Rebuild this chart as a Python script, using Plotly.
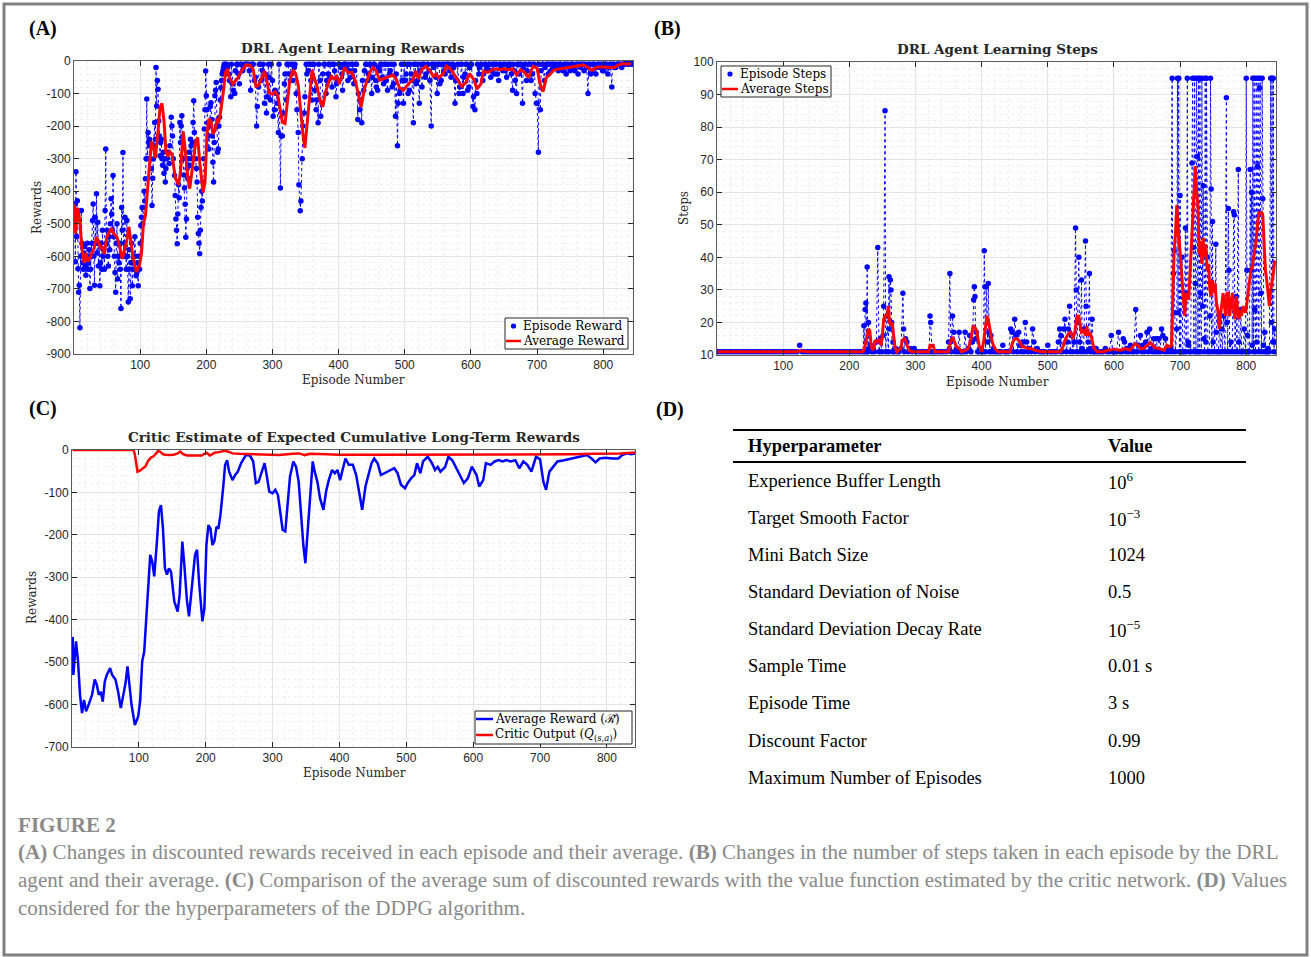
import plotly.graph_objects as go

# ---------------- DATA ----------------
# (A) episode reward, part 1 (episodes 1-229)
reward_ep_1 = [1,2,3,4,5,6,7,8,9,10,11,12,13,14,15,16,17,18,19,20,21,22,23,24,25,26,27,28,29,30,
               31,32,33,34,35,36,37,38,39,40,41,42,43,44,45,46,47,48,49,50,51,52,53,54,55,56,57,58,59,60,
               61,62,63,64,65,66,67,68,69,70,71,72,73,74,75,76,77,78,79,80,81,82,83,84,85,86,87,88,89,90,
               91,92,93,94,95,96,97,98,99,100,101,102,103,104,105,106,107,108,109,110,111,112,113,114,115,116,117,118,119,120,
               121,122,123,124,125,126,127,128,129,130,131,132,133,134,135,136,137,138,139,140,142,144,145,147,148,149,150,152,153,154,
               155,156,157,158,159,160,161,162,163,164,165,166,167,168,169,170,171,172,173,174,175,176,177,178,179,180,181,182,183,184,
               185,186,187,188,189,190,191,192,193,194,195,196,197,198,199,200,201,202,203,204,205,206,207,208,209,210,211,212,213,214,
               215,216,217,218,219,220,221,222,223,224,225,226,227,228,229]
reward_val_1 = [-439,-617,-340,-540,-429,-638,-710,-689,-819,-600,-459,-560,-620,-640,-590,-570,-630,-658,-600,-560,
                -640,-620,-580,-699,-640,-600,-560,-490,-439,-600,-689,-480,-560,-408,-590,-495,-630,-560,-690,-620,
                -560,-640,-520,-600,-580,-640,-459,-270,-560,-520,-600,-630,-540,-580,-500,-423,-470,-520,-352,-540,
                -600,-650,-710,-560,-500,-670,-600,-620,-560,-640,-760,-450,-520,-281,-600,-560,-480,-600,-640,-490,
                -600,-740,-640,-580,-730,-620,-560,-690,-640,-620,-600,-540,-600,-660,-650,-620,-690,-600,-640,-560,
                -505,-480,-450,-500,-450,-400,-430,-362,-300,-117,-300,-220,-250,-240,-260,-255,-330,-444,-360,-301,
                -260,-189,-240,-20,-138,-60,-87,-184,-230,-291,-250,-240,-300,-320,-280,-345,-300,-372,-330,-300,
                -280,-315,-260,-173,-200,-230,-300,-352,-413,-485,-520,-561,-470,-380,-420,-189,-250,-200,-168,-235,
                -300,-350,-390,-440,-541,-485,-330,-360,-300,-280,-320,-240,-260,-300,-250,-189,-122,-220,-250,-300,
                -330,-372,-480,-530,-560,-592,-520,-450,-400,-430,-372,-300,-209,-150,-31,-107,-150,-190,-230,-270,
                -200,-140,-128,-180,-230,-311,-372,-250,-107,-90,-66,-200,-280,-270,-200,-173,-120,-82,-60,-40,
                -31,-20,-10,-10,-40]
# (A) episode reward, part 2 (episodes 231, 234, ... 843)
reward_ep_2 = [231,234,237,240,243,246,249,252,255,258,261,264,267,270,273,276,279,282,285,288,291,294,297,300,303,306,309,312,315,318,
               321,324,327,330,333,336,339,342,345,348,351,354,357,360,363,366,369,372,375,378,381,384,387,390,393,396,399,402,405,408,
               411,414,417,420,423,426,429,432,435,438,441,444,447,450,453,456,459,462,465,468,471,474,477,480,483,486,489,492,495,498,
               501,504,507,510,513,516,519,522,525,528,531,534,537,540,543,546,549,552,555,558,561,564,567,570,573,576,579,582,585,588,
               591,594,597,600,603,606,609,612,615,618,621,624,627,630,633,636,639,642,645,648,651,654,657,660,663,666,669,672,675,678,
               681,684,687,690,693,696,699,702,705,708,711,714,717,720,723,726,729,732,735,738,741,744,747,750,753,756,759,762,765,768,
               771,774,777,780,783,786,789,792,795,798,801,804,807,810,813,816,819,822,825,828,831,834,837,840,843]
reward_val_2 = [-10,-40,-110,-70,-100,-10,-40,-10,-30,-10,-10,-10,-90,-10,-60,-200,-80,-10,-30,-130,
                -160,-10,-120,-60,-150,-100,-220,-390,-230,-70,-120,-10,-60,-10,-20,-100,-220,-460,-300,-160,
                -10,-30,-10,-120,-10,-150,-190,-60,-130,-10,-100,-40,-10,-80,-10,-110,-60,-10,-40,-10,
                -10,-60,-30,-10,-70,-10,-180,-150,-190,-90,-10,-60,-10,-100,-10,-60,-90,-30,-10,-70,
                -10,-90,-40,-10,-70,-170,-260,-100,-10,-130,-60,-10,-90,-40,-190,-10,-60,-130,-10,-10,
                -50,-10,-30,-200,-10,-10,-100,-10,-60,-10,-40,-10,-10,-50,-10,-130,-60,-100,-10,-100,
                -40,-10,-80,-10,-140,-150,-100,-40,-10,-60,-10,-30,-10,-50,-10,-40,-10,-60,-10,-30,
                -10,-50,-20,-10,-90,-30,-100,-10,-10,-130,-10,-60,-10,-10,-40,-10,-130,-280,-150,-10,
                -60,-10,-40,-10,-10,-20,-10,-30,-10,-20,-10,-40,-10,-30,-10,-20,-10,-40,-10,-10,
                -30,-10,-100,-10,-30,-10,-40,-10,-20,-10,-30,-10,-40,-10,-80,-10,-20,-10,-10,-20,
                -10,-5,-10,-5,-10]
# (A) episode reward, part 3 (episodes 232, 235, ... 844)
reward_ep_3 = [232,235,238,241,244,247,250,253,256,259,262,265,268,271,274,277,280,283,286,289,292,295,298,301,304,307,310,313,316,319,
               322,325,328,331,334,337,340,343,346,349,352,355,358,361,364,367,370,373,376,379,382,385,388,391,394,397,400,403,406,409,
               412,415,418,421,424,427,430,433,436,439,442,445,448,451,454,457,460,463,466,469,472,475,478,481,484,487,490,493,496,499,
               502,505,508,511,514,517,520,523,526,529,532,535,538,541,544,547,550,553,556,559,562,565,568,571,574,577,580,583,586,589,
               592,595,598,601,604,607,610,613,616,619,622,625,628,631,634,637,640,643,646,649,652,655,658,661,664,667,670,673,676,679,
               682,685,688,691,694,697,700,703,706,709,712,715,718,721,724,727,730,733,736,739,742,745,748,751,754,757,760,763,766,769,
               772,775,778,781,784,787,790,793,796,799,802,805,808,811,814,817,820,823,826,829,832,835,838,841,844]
reward_val_3 = [-20,-60,-10,-90,-30,-10,-70,-10,-20,-10,-10,-30,-10,-10,-50,-140,-10,-60,-10,-40,
                -110,-50,-10,-170,-90,-130,-10,-230,-160,-40,-10,-40,-10,-60,-10,-150,-380,-430,-200,-110,
                -40,-10,-60,-10,-90,-120,-10,-170,-40,-10,-60,-10,-50,-10,-30,-70,-10,-20,-90,-10,
                -20,-10,-50,-10,-30,-10,-100,-120,-60,-30,-10,-40,-10,-50,-10,-80,-20,-10,-50,-10,
                -60,-10,-30,-80,-10,-40,-130,-90,-60,-10,-40,-100,-10,-60,-10,-70,-10,-30,-80,-10,
                -40,-10,-60,-10,-20,-50,-10,-70,-10,-30,-10,-10,-30,-10,-20,-60,-10,-80,-10,-50,
                -10,-90,-20,-10,-110,-60,-10,-20,-10,-40,-10,-20,-10,-30,-10,-10,-40,-10,-20,-10,
                -30,-10,-10,-40,-10,-60,-10,-40,-10,-20,-10,-30,-10,-60,-10,-100,-130,-10,-30,-10,
                -20,-10,-10,-30,-10,-10,-20,-10,-10,-30,-10,-10,-20,-10,-10,-30,-10,-10,-20,-10,
                -10,-20,-10,-40,-10,-10,-20,-10,-10,-30,-10,-10,-20,-10,-10,-20,-10,-10,-10,-10,
                -10,-5,-10,-5,-5]

# (A) red / (C) blue : average reward
avg_ep = [1,2,6,9,12,15,18,21,25,30,34,37,40,43,46,49,52,57,60,65,
          69,73,77,80,83,86,89,94,99,102,105,108,111,114,117,120,123,127,130,133,
          136,139,142,145,148,153,158,161,165,168,172,175,179,184,187,190,195,198,201,204,
          207,210,213,216,219,222,226,229,232,235,240,244,248,253,260,266,271,275,279,284,
          288,292,295,300,304,308,312,315,319,323,326,331,335,339,342,346,349,352,356,360,
          363,367,371,376,380,384,389,393,397,401,404,409,414,420,425,430,434,439,444,448,
          452,457,462,467,472,477,482,487,492,498,502,507,512,516,521,525,532,538,543,547,
          551,558,563,569,574,580,586,592,598,605,609,615,619,626,632,638,644,650,656,663,
          669,675,681,687,694,700,705,709,714,720,726,736,748,761,770,777,783,789,798,808,
          817,823,830,836,842]
avg_val = [-441,-530,-451,-498,-577,-620,-589,-616,-600,-577,-541,-553,-577,-570,-593,-546,-530,-514,-530,-541,
           -570,-608,-575,-550,-510,-560,-600,-648,-628,-590,-498,-475,-404,-341,-247,-263,-298,-216,-145,-130,
           -184,-279,-294,-279,-286,-357,-381,-341,-216,-271,-357,-392,-326,-247,-235,-310,-404,-373,-224,-177,
           -185,-224,-215,-181,-185,-153,-90,-35,-24,-51,-71,-59,-51,-31,-12,-13,-27,-78,-75,-51,
           -31,-67,-98,-102,-94,-106,-153,-188,-192,-106,-63,-27,-39,-75,-145,-224,-267,-200,-98,-27,
           -51,-75,-114,-141,-98,-71,-47,-55,-47,-71,-51,-20,-35,-35,-59,-106,-141,-85,-51,-31,
           -20,-31,-59,-55,-51,-47,-43,-55,-82,-90,-78,-67,-59,-31,-55,-27,-16,-30,-47,-40,
           -51,-40,-16,-25,-39,-59,-78,-67,-39,-59,-86,-71,-31,-35,-27,-24,-27,-24,-27,-24,
           -43,-27,-35,-51,-16,-22,-75,-94,-51,-40,-27,-24,-20,-16,-12,-20,-29,-20,-18,-20,
           -20,-12,-8,-10,-8]

# (B) episode steps
steps_ep = [1,5,9,13,17,21,25,29,33,37,41,45,49,53,57,61,65,69,73,77,81,85,89,93,97,101,105,109,113,117,
            121,125,129,133,137,141,145,149,153,157,161,165,169,173,177,181,185,189,193,197,201,205,209,213,217,221,
            222,223,224,225,226,227,228,229,230,232,234,236,238,241,243,245,247,249,251,252,254,255,257,259,
            260,261,262,263,264,265,266,268,270,272,275,278,281,282,283,285,287,289,292,295,298,301,305,309,
            313,317,321,322,323,325,328,331,335,339,343,347,350,352,353,354,356,358,360,362,364,366,368,370,
            373,375,377,380,382,384,386,388,389,390,391,392,394,396,398,400,403,404,405,406,407,409,410,411,
            412,414,416,418,420,423,426,429,432,435,438,441,444,446,448,450,452,454,456,458,460,462,464,466,
            468,470,472,475,477,479,481,484,487,490,493,496,500,503,506,510,513,516,518,519,520,522,524,526,
            528,530,531,533,534,536,538,540,542,543,544,545,547,548,549,551,552,554,555,557,558,559,561,563,
            564,565,567,569,571,573,575,578,581,584,587,590,593,596,598,601,604,607,609,612,614,616,618,620,
            622,625,627,630,633,635,637,640,642,644,646,648,650,652,654,656,658,660,662,664,666,668,670,672,
            674,676,678,680,682,684,686,688,689,690,691,692,693,695,696,697,698,699,700,701,703,704,706,708,
            709,710,711,712,713,714,716,718,719,720,721,722,723,724,725,726,727,728,729,730,731,732,733,734,
            735,736,737,738,739,740,741,742,744,745,746,747,748,749,750,752,754,755,756,758,760,761,763,764,
            766,768,770,771,772,773,774,775,777,779,781,782,783,785,786,788,789,790,792,793,795,797,799,800,
            801,802,803,805,806,807,808,809,810,811,812,813,814,815,816,817,818,819,820,821,822,823,824,825,
            826,827,828,830,832,833,835,837,838,839,840,841,842,843,844]
steps_val = [11,11,11,11,11,11,11,11,11,11,11,11,11,11,11,11,11,11,11,11,11,11,11,11,11,11,11,11,11,11,
             11,13,11,11,11,11,11,11,11,11,11,11,11,11,11,11,11,11,11,11,11,11,11,11,11,11,
             19,11,24,26,11,37,11,20,12,13,11,12,11,14,43,11,15,11,16,25,85,11,22,11,
             34,18,33,30,20,11,14,11,12,11,11,12,29,18,11,15,14,11,12,11,12,11,11,11,
             11,11,11,22,20,11,11,11,11,11,11,11,14,35,14,11,22,17,11,12,11,17,11,11,
             11,17,11,12,16,11,14,27,31,28,15,17,11,11,12,11,11,42,31,11,31,14,32,17,
             11,16,11,12,11,11,11,11,13,11,11,11,18,17,11,21,16,11,17,13,11,14,11,20,
             14,11,12,11,18,14,11,12,11,11,11,11,13,11,11,11,11,14,18,11,16,11,18,21,
             11,14,18,25,11,16,11,14,49,30,11,20,40,14,11,33,12,11,18,45,25,11,14,35,
             12,11,21,11,11,12,11,11,11,11,12,11,11,16,11,11,11,17,11,11,15,14,11,12,
             11,13,11,11,24,11,13,16,11,13,11,14,17,11,18,12,11,15,11,15,11,15,11,18,
             16,11,15,11,12,11,12,95,11,35,42,23,11,18,95,23,95,11,59,11,40,11,11,49,
             11,29,95,14,13,11,11,69,95,43,11,95,32,11,95,71,11,95,11,95,29,11,95,25,
             62,15,11,95,14,95,40,11,11,22,95,61,11,51,14,11,44,17,11,11,20,11,18,11,
             22,11,89,20,11,55,36,11,14,11,54,53,11,28,11,67,14,11,24,11,11,18,11,95,
             36,16,11,11,67,36,60,13,95,11,95,24,11,95,14,68,95,11,92,95,29,11,95,58,
             13,11,17,11,11,12,11,95,20,95,14,95,11,18,14]

# (B) average steps
avg_steps_ep = [1,120,124,130,140,221,224,227,229,231,233,235,237,239,242,245,248,250,252,254,
                257,259,261,263,265,267,269,272,275,278,280,283,285,287,290,294,300,320,322,327,
                329,350,353,356,359,362,366,370,376,380,384,387,390,393,396,400,403,406,408,410,
                413,416,420,425,443,447,450,454,458,461,465,470,475,480,490,500,519,523,527,531,
                535,538,541,544,547,549,551,554,557,559,561,564,567,570,575,585,590,596,600,606,
                612,616,620,624,628,632,636,640,645,650,655,659,662,668,672,676,680,684,687,689,
                691,693,695,697,699,701,703,705,707,709,711,713,715,717,719,721,723,725,727,729,
                731,733,735,737,739,741,743,745,747,749,751,753,755,757,759,761,763,765,767,769,
                771,773,775,777,779,781,783,785,787,789,791,793,795,797,799,801,803,805,807,809,
                811,813,815,817,819,821,823,825,827,829,831,833,835,837,839,841,843]
avg_steps_val = [11,11,11.3,11.2,11,11,13,16,18,17.5,13,11.5,12,14.5,14,15,13,16,21,22,
                 22,25,20,19,20,16,12.5,11,11.5,12,14.5,15,14.5,13,11.5,11,11,11,13,13,
                 11,11,14,15.5,14,12.5,12,11,11.5,12,15,19,18.5,17,13,11,14,19,22,21,
                 17,14,12,11,11,14,15,15,14,12.5,12.5,12,12,11.5,11,11,11,12.5,15,16.5,
                 17,15,17,22,22,19,17,17.5,16,19,16,17,14,12,11,11,11.5,11.5,11.8,11.5,
                 11.5,12,11.8,11.5,12.5,13.5,13,12,12,13,13.8,13,12.2,12,11.8,11.5,13,12.5,13,30,
                 42,47,56,50,44,38,34,28,22,29,28,27,35,43,50,57,68,60,56,41,
                 45,38,46,40,44,36,38,30,28,33,29,32,26,24,18,22,26,29,25,22,
                 29,29,22,25,29,24,21,28,25,21,24,22,25,24,23,26,30,33,36,37,
                 40,43,45,50,54,53,54,53,44,36,33,28,25,30,32,35,39]

# (C) critic output
critic_ep = [1,60,92,94,96,98,102,106,110,114,118,122,126,129,132,136,140,146,152,158,
             162,166,172,180,188,194,198,202,206,210,214,220,228,234,240,250,270,290,310,330,
             340,348,356,380,400,450,500,550,600,650,700,750,780,800,820,842]
critic_val = [0,0,0,-10,-35,-51,-48,-44,-38,-25,-18,-15,-8,-2,-4,-10,-11,-12,-11,-8,
              -4,-10,-13,-13,-14,-13,-9,-7,-13,-10,-6,-5,-2,-4,-8,-9,-10,-10,-12,-9,
              -8,-12,-9,-10,-11,-11,-11,-11,-10,-10,-11,-10,-9,-9,-8,-6]

x_ticks = [100, 200, 300, 400, 500, 600, 700, 800]
x_ticklabels = ["100", "200", "300", "400", "500", "600", "700", "800"]
a_yticks = [0, -100, -200, -300, -400, -500, -600, -700, -800, -900]
a_yticklabels = ["0", "-100", "-200", "-300", "-400", "-500", "-600", "-700", "-800", "-900"]
b_yticks = [10, 20, 30, 40, 50, 60, 70, 80, 90, 100]
b_yticklabels = ["10", "20", "30", "40", "50", "60", "70", "80", "90", "100"]
c_yticks = [0, -100, -200, -300, -400, -500, -600, -700]
c_yticklabels = ["0", "-100", "-200", "-300", "-400", "-500", "-600", "-700"]

legend_a = ["Episode Reward", "Average Reward"]
legend_b = ["Episode Steps", "Average Steps"]
legend_c = ["Average Reward (ℛ̄)", "Critic Output (<i>Q</i><sub>(<i>s</i>,<i>a</i>)</sub>)"]

hyper_names = ["Experience Buffer Length", "Target Smooth Factor", "Mini Batch Size",
               "Standard Deviation of Noise", "Standard Deviation Decay Rate", "Sample Time",
               "Episode Time", "Discount Factor", "Maximum Number of Episodes"]
hyper_values = ["10<sup>6</sup>", "10<sup>−3</sup>", "1024", "0.5", "10<sup>−5</sup>",
                "0.01 s", "3 s", "0.99", "1000"]

caption_lines = [
    "<b>(A)</b> Changes in discounted rewards received in each episode and their average. <b>(B)</b> Changes in the number of steps taken in each episode by the DRL",
    "agent and their average. <b>(C)</b> Comparison of the average sum of discounted rewards with the value function estimated by the critic network. <b>(D)</b> Values",
    "considered for the hyperparameters of the DDPG algorithm.",
]

# merge the interleaved samplings of the later episodes in episode order
_pairs = sorted(zip(reward_ep_1 + reward_ep_2 + reward_ep_3, reward_val_1 + reward_val_2 + reward_val_3))
reward_ep = [p[0] for p in _pairs]
reward_val = [p[1] for p in _pairs]

# ---------------- LAYOUT HELPERS ----------------
W, H = 1311, 957


def fx(p):
    return p / W


def fy(p):
    return 1 - p / H


BLUE = "#0000ff"
RED = "#ff0000"
AXC = "#5a5a5a"
TXT = "#262626"
SERIF = "DejaVu Serif"
TNR = "Liberation Serif"


def xax(dom, rng, anchor):
    return dict(domain=[fx(dom[0]), fx(dom[1])], range=rng, anchor=anchor,
                tickmode="array", tickvals=x_ticks, ticktext=x_ticklabels,
                showline=True, linecolor=AXC, linewidth=1, mirror="allticks",
                ticks="inside", ticklen=5, tickcolor=TXT,
                showgrid=True, gridcolor="#e4e4e4", gridwidth=1,
                minor=dict(dtick=20, tick0=0, showgrid=True, gridcolor="#efefef", griddash="dot"),
                zeroline=False, automargin=False, fixedrange=True,
                tickfont=dict(family="Liberation Sans", size=12, color=TXT))


def yax(dom, rng, anchor, tv, tt, minor_dt):
    return dict(domain=[fy(dom[1]), fy(dom[0])], range=rng, anchor=anchor,
                tickmode="array", tickvals=tv, ticktext=tt,
                showline=True, linecolor=AXC, linewidth=1, mirror="allticks",
                ticks="inside", ticklen=5, tickcolor=TXT,
                showgrid=True, gridcolor="#e4e4e4", gridwidth=1,
                minor=dict(dtick=minor_dt, tick0=0, showgrid=True, gridcolor="#efefef", griddash="dot"),
                zeroline=False, automargin=False, fixedrange=True,
                tickfont=dict(family="Liberation Sans", size=12, color=TXT))


fig = go.Figure()

# (A)
fig.add_trace(go.Scatter(x=reward_ep, y=reward_val, mode="lines", xaxis="x", yaxis="y",
                         line=dict(color=BLUE, width=1, dash="dot"), showlegend=False, hoverinfo="skip"))
fig.add_trace(go.Scatter(x=reward_ep, y=reward_val, mode="markers", xaxis="x", yaxis="y",
                         marker=dict(color=BLUE, size=5.5), name=legend_a[0], showlegend=False))
fig.add_trace(go.Scatter(x=avg_ep, y=avg_val, mode="lines", xaxis="x", yaxis="y",
                         line=dict(color=RED, width=3), name=legend_a[1], showlegend=False))
# (B)
fig.add_trace(go.Scatter(x=steps_ep, y=steps_val, mode="lines", xaxis="x2", yaxis="y2",
                         line=dict(color=BLUE, width=1, dash="dot"), showlegend=False, hoverinfo="skip"))
fig.add_trace(go.Scatter(x=steps_ep, y=steps_val, mode="markers", xaxis="x2", yaxis="y2",
                         marker=dict(color=BLUE, size=5.5), name=legend_b[0], showlegend=False))
fig.add_trace(go.Scatter(x=avg_steps_ep, y=avg_steps_val, mode="lines", xaxis="x2", yaxis="y2",
                         line=dict(color=RED, width=3), name=legend_b[1], showlegend=False))
# (C)
fig.add_trace(go.Scatter(x=avg_ep, y=avg_val, mode="lines", xaxis="x3", yaxis="y3",
                         line=dict(color=BLUE, width=2.5), name="Average Reward", showlegend=False))
fig.add_trace(go.Scatter(x=critic_ep, y=critic_val, mode="lines", xaxis="x3", yaxis="y3",
                         line=dict(color=RED, width=2.5), name="Critic Output", showlegend=False))

annotations = []
shapes = []


def ann(text, x, y, size, family=SERIF, color="black", xanchor="center", yanchor="middle", angle=0):
    annotations.append(dict(text=text, x=fx(x), y=fy(y), xref="paper", yref="paper",
                            xanchor=xanchor, yanchor=yanchor, showarrow=False, textangle=angle,
                            borderpad=0, font=dict(family=family, size=size, color=color)))


def legend_box(x0, y0, x1, y1, rows, glyphs, labels, gx0, gx1, tx):
    shapes.append(dict(type="rect", xref="paper", yref="paper", x0=fx(x0), x1=fx(x1), y0=fy(y1), y1=fy(y0),
                       line=dict(color=TXT, width=1), fillcolor="white", layer="above"))
    for ry, (kind, col), lab in zip(rows, glyphs, labels):
        if kind == "dot":
            cx = (gx0 + gx1) / 2
            shapes.append(dict(type="circle", xref="paper", yref="paper", x0=fx(cx - 2.6), x1=fx(cx + 2.6),
                               y0=fy(ry + 2.6), y1=fy(ry - 2.6), fillcolor=col, line=dict(width=0)))
        else:
            shapes.append(dict(type="line", xref="paper", yref="paper", x0=fx(gx0), x1=fx(gx1),
                               y0=fy(ry), y1=fy(ry), line=dict(color=col, width=2.5)))
        ann(lab, tx, ry, 12, SERIF, "black", xanchor="left")


# panel labels
ann("<b>(A)</b>", 28, 29, 20, TNR, xanchor="left")
ann("<b>(B)</b>", 653, 29, 20, TNR, xanchor="left")
ann("<b>(C)</b>", 28, 408, 20, TNR, xanchor="left")
ann("<b>(D)</b>", 655, 409, 20, TNR, xanchor="left")
# titles
ann("<b>DRL Agent Learning Rewards</b>", 353, 48, 13.5, color=TXT)
ann("<b>DRL Agent Learning Steps</b>", 997, 49, 13.5, color=TXT)
ann("<b>Critic Estimate of Expected Cumulative Long-Term Rewards</b>", 354, 437, 13.5, color=TXT)
# axis titles
ann("Episode Number", 353, 380, 12, color=TXT)
ann("Episode Number", 997, 382, 12, color=TXT)
ann("Episode Number", 354, 773, 12, color=TXT)
ann("Rewards", 37, 208, 12, color=TXT, angle=-90)
ann("Steps", 684, 208, 12, color=TXT, angle=-90)
ann("Rewards", 32, 598, 12, color=TXT, angle=-90)

# legends (drawn as boxes)
legend_box(505, 318, 628, 349, [326, 341], [("dot", BLUE), ("line", RED)], legend_a, 506, 521, 522)
legend_box(721, 66, 831, 97, [74, 89], [("dot", BLUE), ("line", RED)], legend_b, 722, 738, 739)
legend_box(475, 711, 632, 744, [719, 735], [("line", BLUE), ("line", RED)], legend_c, 476, 493, 494)

# table (D)
ann("<b>Hyperparameter</b>", 747, 446, 18.5, TNR, xanchor="left")
ann("<b>Value</b>", 1107, 446, 18.5, TNR, xanchor="left")
row_y = [481, 518, 555, 592, 629, 666, 703, 741, 778]
for name, val, yy in zip(hyper_names, hyper_values, row_y):
    ann(name, 747, yy, 18.5, TNR, xanchor="left")
    ann(val, 1107, yy, 18.5, TNR, xanchor="left")

# caption
ann("<b>FIGURE 2</b>", 17, 825, 21.1, TNR, color="#8a8a8a", xanchor="left")
for line, yy in zip(caption_lines, [852, 880, 908]):
    ann(line, 17, yy, 21.1, TNR, color="#8a8a8a", xanchor="left")

shapes += [
    dict(type="rect", xref="paper", yref="paper", x0=fx(4), x1=fx(1307), y0=fy(955), y1=fy(4),
         line=dict(color="#808080", width=3)),
    dict(type="line", xref="paper", yref="paper", x0=fx(733), x1=fx(1246), y0=fy(430), y1=fy(430),
         line=dict(color="black", width=2)),
    dict(type="line", xref="paper", yref="paper", x0=fx(733), x1=fx(1246), y0=fy(462), y1=fy(462),
         line=dict(color="black", width=2)),
]

fig.update_layout(
    width=W, height=H, autosize=False,
    margin=dict(l=0, r=0, t=0, b=0),
    paper_bgcolor="white", plot_bgcolor="white",
    xaxis=xax((74, 633), [0, 845], "y"),
    yaxis=yax((61, 354), [-900, 0], "x", a_yticks, a_yticklabels, 20),
    xaxis2=xax((717, 1276), [0, 845], "y2"),
    yaxis2=yax((62, 355), [10, 100], "x2", b_yticks, b_yticklabels, 2),
    xaxis3=xax((72, 635), [0, 842], "y3"),
    yaxis3=yax((450, 747), [-700, 0], "x3", c_yticks, c_yticklabels, 20),
    annotations=annotations,
    shapes=shapes,
    showlegend=False,
)

fig.write_html("out.html")
